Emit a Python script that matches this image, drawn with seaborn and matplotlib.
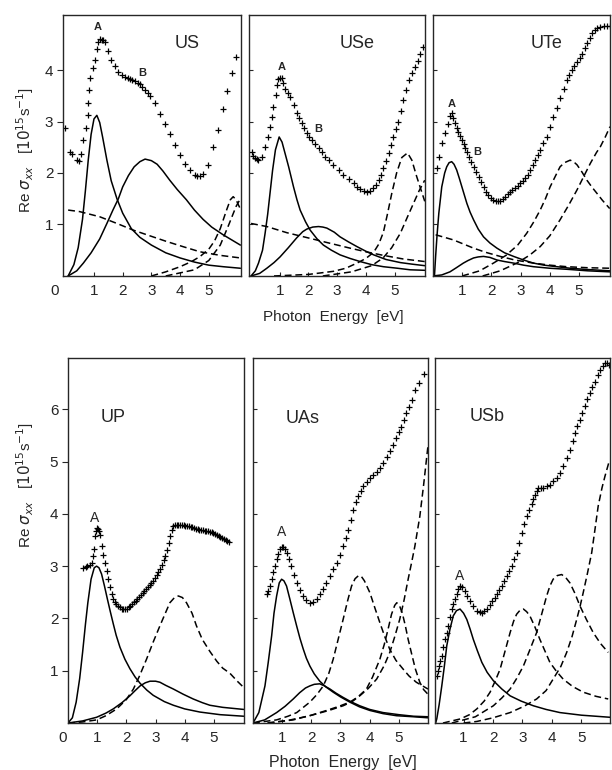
import matplotlib
matplotlib.use("Agg")
import matplotlib.pyplot as plt
import seaborn as sns

# ---- top row: US / USe / UTe  (photon energy [eV], Re sigma_xx [1e15 1/s]) ----
US_EXP = [(0.0, 2.88), (0.15, 2.41), (0.22, 2.36), (0.4, 2.25), (0.49, 2.24), (0.55, 2.36),
          (0.63, 2.64), (0.72, 2.87), (0.78, 3.13), (0.8, 3.35), (0.83, 3.61), (0.86, 3.84),
          (0.97, 4.04), (1.03, 4.2), (1.09, 4.4), (1.15, 4.55), (1.21, 4.6), (1.27, 4.59),
          (1.33, 4.58), (1.38, 4.55), (1.5, 4.36), (1.61, 4.2), (1.73, 4.07), (1.85, 3.97),
          (1.96, 3.91), (2.08, 3.86), (2.17, 3.84), (2.25, 3.83), (2.34, 3.81), (2.43, 3.78),
          (2.52, 3.75), (2.6, 3.72), (2.69, 3.67), (2.78, 3.62), (2.87, 3.56), (2.95, 3.5),
          (3.13, 3.35), (3.3, 3.15), (3.47, 2.96), (3.64, 2.76), (3.82, 2.54), (4.0, 2.34),
          (4.16, 2.18), (4.34, 2.05), (4.51, 1.97), (4.6, 1.95), (4.69, 1.95), (4.8, 1.99),
          (4.98, 2.16), (5.15, 2.51), (5.32, 2.83), (5.5, 3.25), (5.65, 3.6), (5.8, 3.95),
          (5.95, 4.25)]
US_A = [(0.1, 0.0), (0.3, 0.22), (0.45, 0.55), (0.6, 1.1), (0.7, 1.65), (0.8, 2.25), (0.9, 2.75),
        (1.0, 3.05), (1.1, 3.12), (1.2, 2.98), (1.3, 2.7), (1.45, 2.25), (1.6, 1.85), (1.8, 1.5),
        (2.0, 1.22), (2.3, 0.92), (2.6, 0.75), (3.0, 0.6), (3.5, 0.45), (4.0, 0.35), (4.5, 0.27),
        (5.0, 0.21), (5.5, 0.18), (6.1, 0.15)]
US_B = [(0.1, 0.0), (0.4, 0.1), (0.63, 0.25), (0.9, 0.45), (1.2, 0.72), (1.45, 1.02), (1.66, 1.28),
        (1.85, 1.5), (2.0, 1.73), (2.2, 1.95), (2.4, 2.12), (2.6, 2.22), (2.78, 2.27), (3.0, 2.24),
        (3.2, 2.17), (3.4, 2.04), (3.64, 1.86), (3.9, 1.68), (4.22, 1.48), (4.5, 1.28), (4.8, 1.1),
        (5.1, 0.95), (5.5, 0.8), (5.8, 0.7), (6.1, 0.6)]
US_D1 = [(0.1, 1.28), (0.5, 1.25), (1.2, 1.15), (1.8, 1.02), (2.37, 0.89), (3.0, 0.77), (3.53, 0.67),
         (4.1, 0.57), (4.69, 0.47), (5.4, 0.4), (6.1, 0.35)]
US_D2 = [(3.0, 0.0), (3.5, 0.08), (4.0, 0.18), (4.4, 0.28), (4.7, 0.38), (5.0, 0.52), (5.2, 0.68),
         (5.4, 0.92), (5.6, 1.25), (5.75, 1.48), (5.85, 1.54), (5.95, 1.48), (6.1, 1.3)]
US_D3 = [(3.5, 0.0), (4.5, 0.12), (5.0, 0.3), (5.4, 0.6), (5.7, 1.0), (5.95, 1.35), (6.1, 1.5)]

USE_EXP = [(0.02, 2.41), (0.08, 2.33), (0.14, 2.29), (0.2, 2.27), (0.26, 2.26), (0.37, 2.32),
           (0.49, 2.51), (0.58, 2.7), (0.66, 2.9), (0.72, 3.09), (0.78, 3.29), (0.87, 3.51),
           (0.92, 3.7), (0.95, 3.82), (1.0, 3.85), (1.07, 3.84), (1.13, 3.75), (1.19, 3.64),
           (1.28, 3.56), (1.36, 3.48), (1.48, 3.32), (1.59, 3.16), (1.68, 3.06), (1.77, 2.97),
           (1.85, 2.87), (1.94, 2.77), (2.03, 2.7), (2.12, 2.64), (2.23, 2.56), (2.35, 2.48),
           (2.47, 2.4), (2.58, 2.32), (2.7, 2.25), (2.87, 2.16), (3.05, 2.06), (3.22, 1.96),
           (3.4, 1.88), (3.57, 1.8), (3.7, 1.73), (3.8, 1.68), (3.92, 1.65), (4.03, 1.64),
           (4.15, 1.66), (4.26, 1.7), (4.35, 1.77), (4.44, 1.86), (4.53, 1.97), (4.61, 2.09),
           (4.7, 2.23), (4.79, 2.38), (4.88, 2.54), (4.96, 2.7), (5.05, 2.85), (5.13, 3.0),
           (5.22, 3.2), (5.3, 3.42), (5.4, 3.62), (5.5, 3.8), (5.6, 3.94), (5.7, 4.05),
           (5.8, 4.17), (5.9, 4.32), (5.98, 4.45)]
USE_A = [(0.0, 0.0), (0.15, 0.1), (0.26, 0.25), (0.4, 0.5), (0.49, 0.83), (0.58, 1.2), (0.66, 1.6),
         (0.75, 2.05), (0.85, 2.45), (0.98, 2.7), (1.08, 2.6), (1.2, 2.35), (1.31, 2.12), (1.48, 1.73),
         (1.6, 1.48), (1.71, 1.28), (1.9, 1.05), (2.06, 0.89), (2.3, 0.72), (2.52, 0.6), (2.8, 0.5),
         (3.1, 0.41), (3.45, 0.34), (3.8, 0.28), (4.2, 0.22), (4.61, 0.18), (5.1, 0.15), (5.54, 0.12),
         (6.05, 0.11)]
USE_B = [(0.0, 0.0), (0.3, 0.05), (0.55, 0.15), (0.8, 0.26), (1.01, 0.37), (1.3, 0.55), (1.59, 0.74),
         (1.8, 0.86), (1.94, 0.91), (2.15, 0.95), (2.35, 0.96), (2.5, 0.95), (2.64, 0.93), (2.9, 0.85),
         (3.1, 0.76), (3.4, 0.66), (3.69, 0.57), (4.0, 0.48), (4.27, 0.41), (4.7, 0.32), (5.2, 0.26),
         (5.6, 0.23), (6.05, 0.2)]
USE_D1 = [(0.0, 1.02), (0.55, 0.96), (1.25, 0.84), (2.06, 0.73), (2.64, 0.65), (3.45, 0.54),
          (4.0, 0.47), (4.61, 0.4), (5.3, 0.33), (6.05, 0.28)]
USE_D2 = [(0.8, 0.0), (2.0, 0.03), (2.87, 0.09), (3.3, 0.15), (3.69, 0.25), (4.0, 0.34), (4.27, 0.46),
          (4.45, 0.62), (4.61, 0.85), (4.75, 1.2), (4.9, 1.6), (5.07, 2.0), (5.25, 2.3), (5.45, 2.39),
          (5.6, 2.25), (5.77, 1.93), (6.05, 1.45)]
USE_D3 = [(2.5, 0.0), (3.5, 0.08), (4.2, 0.2), (4.6, 0.35), (4.9, 0.55), (5.2, 0.83), (5.45, 1.15),
          (5.65, 1.4), (5.85, 1.65), (6.05, 1.86)]

UTE_EXP = [(0.13, 2.09), (0.22, 2.32), (0.3, 2.58), (0.41, 2.77), (0.5, 2.95), (0.57, 3.1),
           (0.64, 3.16), (0.7, 3.07), (0.76, 2.97), (0.82, 2.88), (0.87, 2.8), (0.93, 2.72),
           (0.99, 2.64), (1.05, 2.56), (1.1, 2.48), (1.16, 2.4), (1.22, 2.32), (1.3, 2.22),
           (1.39, 2.12), (1.47, 2.02), (1.56, 1.93), (1.65, 1.83), (1.73, 1.73), (1.82, 1.64),
           (1.9, 1.57), (1.98, 1.52), (2.07, 1.48), (2.15, 1.46), (2.23, 1.46), (2.3, 1.46),
           (2.39, 1.5), (2.47, 1.54), (2.56, 1.59), (2.64, 1.64), (2.72, 1.67), (2.81, 1.7),
           (2.9, 1.75), (2.98, 1.8), (3.07, 1.85), (3.15, 1.9), (3.24, 1.97), (3.32, 2.06),
           (3.41, 2.15), (3.49, 2.25), (3.58, 2.35), (3.67, 2.45), (3.78, 2.58), (3.9, 2.7),
           (4.01, 2.9), (4.12, 3.09), (4.24, 3.27), (4.35, 3.45), (4.47, 3.63), (4.58, 3.81),
           (4.67, 3.91), (4.75, 4.0), (4.84, 4.08), (4.93, 4.16), (5.02, 4.24), (5.1, 4.32),
           (5.19, 4.42), (5.27, 4.52), (5.36, 4.62), (5.45, 4.71), (5.53, 4.77), (5.62, 4.81),
           (5.73, 4.84), (5.85, 4.85), (5.96, 4.85), (6.05, 4.85)]
UTE_A = [(0.05, 0.0), (0.09, 0.38), (0.14, 0.8), (0.2, 1.22), (0.3, 1.73), (0.4, 2.0), (0.47, 2.12),
         (0.55, 2.2), (0.64, 2.22), (0.72, 2.17), (0.81, 2.06), (0.9, 1.9), (0.99, 1.73), (1.08, 1.56),
         (1.16, 1.41), (1.27, 1.24), (1.39, 1.09), (1.55, 0.91), (1.73, 0.76), (1.95, 0.64),
         (2.19, 0.54), (2.45, 0.45), (2.76, 0.38), (3.1, 0.31), (3.44, 0.25), (3.8, 0.21),
         (4.24, 0.18), (4.7, 0.15), (5.16, 0.13), (6.06, 0.1)]
UTE_B = [(0.0, 0.0), (0.3, 0.02), (0.58, 0.08), (0.8, 0.16), (1.04, 0.25), (1.2, 0.3), (1.39, 0.35),
         (1.55, 0.37), (1.73, 0.38), (1.95, 0.36), (2.19, 0.31), (2.45, 0.28), (2.76, 0.25),
         (3.1, 0.21), (3.44, 0.18), (4.0, 0.15), (4.58, 0.13), (5.3, 0.1), (6.06, 0.08)]
UTE_D1 = [(0.09, 0.8), (0.7, 0.7), (1.39, 0.54), (1.8, 0.46), (2.3, 0.38), (2.8, 0.31), (3.44, 0.25),
          (4.0, 0.21), (4.58, 0.18), (5.3, 0.16), (6.06, 0.15)]
UTE_D2 = [(1.0, 0.0), (1.6, 0.1), (2.07, 0.25), (2.5, 0.4), (2.9, 0.6), (3.21, 0.83), (3.45, 1.05),
          (3.67, 1.28), (3.85, 1.5), (4.01, 1.73), (4.2, 1.95), (4.35, 2.12), (4.5, 2.2), (4.7, 2.25),
          (4.85, 2.2), (4.93, 2.16), (5.1, 2.02), (5.27, 1.86), (5.45, 1.72), (5.62, 1.6),
          (5.8, 1.47), (6.05, 1.31)]
UTE_D3 = [(1.7, 0.0), (2.3, 0.1), (2.87, 0.25), (3.3, 0.4), (3.67, 0.57), (4.0, 0.78), (4.35, 1.09),
          (4.65, 1.38), (4.93, 1.67), (5.15, 1.92), (5.39, 2.19), (5.6, 2.4), (5.73, 2.51),
          (5.9, 2.7), (6.06, 2.9)]

# ---- bottom row: UP / UAs / USb ----
UP_EXP = [(0.52, 2.97), (0.6, 2.99), (0.66, 3.0), (0.74, 3.03), (0.81, 3.07), (0.86, 3.2),
          (0.89, 3.32), (0.93, 3.57), (0.96, 3.68), (0.98, 3.73), (1.02, 3.72), (1.06, 3.68),
          (1.1, 3.6), (1.15, 3.38), (1.2, 3.22), (1.27, 3.07), (1.32, 2.9), (1.38, 2.75),
          (1.44, 2.6), (1.5, 2.46), (1.55, 2.38), (1.6, 2.31), (1.66, 2.27), (1.72, 2.24),
          (1.78, 2.21), (1.84, 2.19), (1.9, 2.18), (1.96, 2.18), (2.02, 2.19), (2.08, 2.21),
          (2.14, 2.24), (2.2, 2.27), (2.26, 2.31), (2.32, 2.34), (2.38, 2.37), (2.44, 2.41),
          (2.5, 2.45), (2.56, 2.49), (2.62, 2.52), (2.68, 2.56), (2.74, 2.6), (2.8, 2.64),
          (2.86, 2.68), (2.92, 2.72), (2.98, 2.78), (3.04, 2.84), (3.1, 2.89), (3.16, 2.95),
          (3.22, 3.03), (3.28, 3.11), (3.34, 3.2), (3.4, 3.3), (3.45, 3.44), (3.5, 3.58),
          (3.55, 3.7), (3.6, 3.76), (3.66, 3.78), (3.72, 3.78), (3.78, 3.79), (3.84, 3.78),
          (3.9, 3.79), (3.96, 3.78), (4.02, 3.77), (4.08, 3.77), (4.14, 3.76), (4.2, 3.75),
          (4.26, 3.74), (4.32, 3.73), (4.38, 3.72), (4.44, 3.71), (4.5, 3.7), (4.56, 3.69),
          (4.62, 3.69), (4.68, 3.68), (4.74, 3.67), (4.8, 3.67), (4.86, 3.66), (4.92, 3.65),
          (4.98, 3.64), (5.04, 3.62), (5.1, 3.6), (5.16, 3.58), (5.22, 3.56), (5.28, 3.54),
          (5.34, 3.52), (5.4, 3.5), (5.46, 3.48), (5.52, 3.46)]
UP_A = [(0.0, 0.0), (0.15, 0.1), (0.28, 0.4), (0.4, 0.85), (0.5, 1.35), (0.6, 1.9), (0.68, 2.3),
        (0.79, 2.75), (0.9, 2.97), (0.98, 3.0), (1.06, 2.97), (1.15, 2.85), (1.25, 2.62),
        (1.35, 2.37), (1.45, 2.13), (1.55, 1.9), (1.65, 1.68), (1.78, 1.45), (1.95, 1.22),
        (2.12, 1.04), (2.3, 0.88), (2.47, 0.76), (2.7, 0.63), (2.92, 0.53), (3.3, 0.41),
        (3.61, 0.34), (4.0, 0.27), (4.52, 0.21), (5.21, 0.16), (6.02, 0.13)]
UP_B = [(0.0, 0.0), (0.5, 0.04), (0.98, 0.11), (1.3, 0.19), (1.55, 0.27), (1.85, 0.39), (2.12, 0.52),
        (2.3, 0.62), (2.47, 0.71), (2.65, 0.77), (2.81, 0.8), (3.0, 0.8), (3.15, 0.78), (3.35, 0.72),
        (3.61, 0.65), (3.95, 0.55), (4.29, 0.46), (4.6, 0.39), (4.86, 0.34), (5.3, 0.3), (6.02, 0.26)]
UP_D = [(0.0, 0.0), (0.5, 0.02), (0.98, 0.06), (1.3, 0.14), (1.67, 0.27), (2.0, 0.45), (2.24, 0.65),
        (2.45, 0.9), (2.69, 1.22), (2.92, 1.55), (3.15, 1.86), (3.35, 2.12), (3.49, 2.3),
        (3.65, 2.4), (3.78, 2.43), (3.92, 2.4), (4.06, 2.3), (4.25, 2.1), (4.4, 1.86), (4.6, 1.6),
        (4.86, 1.37), (5.1, 1.18), (5.3, 1.05), (5.55, 0.95), (5.8, 0.8), (6.02, 0.68)]

UAS_EXP = [(0.47, 2.46), (0.52, 2.53), (0.58, 2.62), (0.64, 2.75), (0.7, 2.88), (0.76, 3.0),
           (0.81, 3.13), (0.87, 3.24), (0.92, 3.32), (0.98, 3.37), (1.04, 3.36), (1.1, 3.32),
           (1.15, 3.26), (1.24, 3.13), (1.32, 3.0), (1.41, 2.84), (1.5, 2.68), (1.61, 2.55),
           (1.72, 2.43), (1.83, 2.35), (1.95, 2.3), (2.06, 2.32), (2.18, 2.37), (2.3, 2.46),
           (2.41, 2.56), (2.52, 2.68), (2.64, 2.81), (2.75, 2.94), (2.87, 3.07), (2.98, 3.22),
           (3.09, 3.38), (3.18, 3.54), (3.26, 3.7), (3.35, 3.89), (3.43, 4.08), (3.52, 4.22),
           (3.61, 4.34), (3.7, 4.44), (3.78, 4.53), (3.9, 4.61), (4.01, 4.69), (4.12, 4.75),
           (4.24, 4.81), (4.35, 4.88), (4.46, 4.97), (4.58, 5.08), (4.69, 5.2), (4.8, 5.32),
           (4.92, 5.45), (5.0, 5.56), (5.09, 5.67), (5.18, 5.8), (5.26, 5.93), (5.35, 6.05),
           (5.44, 6.18), (5.55, 6.37), (5.7, 6.5), (5.85, 6.68)]
UAS_A = [(0.0, 0.0), (0.2, 0.2), (0.41, 0.71), (0.52, 1.15), (0.64, 1.67), (0.72, 2.1), (0.81, 2.43),
         (0.9, 2.68), (0.98, 2.75), (1.06, 2.72), (1.15, 2.62), (1.26, 2.38), (1.38, 2.11),
         (1.5, 1.85), (1.61, 1.62), (1.72, 1.42), (1.83, 1.24), (1.95, 1.09), (2.1, 0.94),
         (2.29, 0.8), (2.5, 0.69), (2.75, 0.59), (3.0, 0.5), (3.32, 0.4), (3.65, 0.31),
         (4.01, 0.24), (4.46, 0.18), (4.92, 0.14), (5.5, 0.12), (6.0, 0.1)]
UAS_B = [(0.0, 0.0), (0.4, 0.06), (0.81, 0.2), (1.1, 0.32), (1.38, 0.46), (1.6, 0.58), (1.8, 0.67),
         (1.95, 0.71), (2.1, 0.74), (2.29, 0.75), (2.45, 0.71), (2.64, 0.65), (2.85, 0.57),
         (3.09, 0.49), (3.35, 0.41), (3.66, 0.33), (4.0, 0.26), (4.46, 0.2), (5.0, 0.16),
         (5.5, 0.13), (6.0, 0.12)]
UAS_D1 = [(0.0, 0.0), (0.81, 0.06), (1.2, 0.13), (1.5, 0.2), (1.95, 0.4), (2.2, 0.55), (2.41, 0.71),
          (2.6, 0.95), (2.75, 1.22), (2.92, 1.6), (3.09, 1.98), (3.25, 2.35), (3.38, 2.62),
          (3.5, 2.76), (3.62, 2.82), (3.72, 2.8), (3.82, 2.72), (4.01, 2.49), (4.18, 2.2),
          (4.35, 1.92), (4.52, 1.65), (4.69, 1.41), (4.9, 1.2), (5.15, 1.03), (5.35, 0.9),
          (5.6, 0.78), (6.0, 0.65)]
UAS_D2 = [(0.5, 0.0), (1.38, 0.06), (2.0, 0.15), (2.52, 0.24), (2.95, 0.32), (3.32, 0.4), (3.6, 0.5),
          (3.89, 0.65), (4.1, 0.88), (4.35, 1.22), (4.5, 1.5), (4.63, 1.79), (4.75, 2.08),
          (4.86, 2.25), (4.93, 2.3), (5.02, 2.25), (5.12, 2.1), (5.22, 1.87), (5.32, 1.6),
          (5.45, 1.3), (5.57, 1.03), (5.72, 0.78), (5.85, 0.64), (6.0, 0.55)]
UAS_D3 = [(0.5, 0.0), (1.2, 0.05), (1.95, 0.14), (2.6, 0.24), (3.09, 0.33), (3.4, 0.41), (3.66, 0.52),
          (3.95, 0.66), (4.24, 0.84), (4.5, 1.1), (4.69, 1.35), (4.86, 1.65), (5.03, 1.98),
          (5.18, 2.35), (5.32, 2.75), (5.45, 3.1), (5.55, 3.38), (5.72, 3.95), (5.85, 4.55),
          (6.0, 5.3)]

USB_EXP = [(0.09, 0.9), (0.12, 1.0), (0.15, 1.09), (0.2, 1.18), (0.26, 1.28), (0.31, 1.45),
           (0.37, 1.6), (0.43, 1.72), (0.48, 1.86), (0.54, 2.02), (0.6, 2.18), (0.65, 2.28),
           (0.71, 2.37), (0.77, 2.47), (0.82, 2.56), (0.88, 2.62), (0.95, 2.6), (1.05, 2.52),
           (1.13, 2.42), (1.22, 2.33), (1.33, 2.23), (1.45, 2.14), (1.55, 2.12), (1.62, 2.11),
           (1.7, 2.14), (1.79, 2.18), (1.88, 2.25), (1.96, 2.33), (2.05, 2.4), (2.13, 2.46),
           (2.21, 2.54), (2.29, 2.62), (2.38, 2.71), (2.46, 2.81), (2.55, 2.9), (2.63, 3.0),
           (2.72, 3.13), (2.8, 3.26), (2.88, 3.45), (2.97, 3.64), (3.05, 3.8), (3.14, 3.96),
           (3.22, 4.08), (3.31, 4.18), (3.37, 4.28), (3.42, 4.37), (3.48, 4.44), (3.54, 4.49),
           (3.62, 4.5), (3.71, 4.5), (3.82, 4.53), (3.93, 4.56), (4.05, 4.62), (4.16, 4.69),
           (4.27, 4.79), (4.38, 4.91), (4.5, 5.06), (4.61, 5.23), (4.7, 5.4), (4.78, 5.55),
           (4.86, 5.68), (4.95, 5.8), (5.03, 5.93), (5.12, 6.06), (5.2, 6.19), (5.29, 6.31),
           (5.37, 6.42), (5.46, 6.53), (5.55, 6.65), (5.63, 6.76), (5.72, 6.83), (5.8, 6.88),
           (5.88, 6.88), (5.94, 6.85)]
USB_A = [(0.05, 0.0), (0.09, 0.08), (0.17, 0.35), (0.26, 0.71), (0.35, 1.1), (0.43, 1.48),
         (0.54, 1.8), (0.65, 2.05), (0.76, 2.15), (0.88, 2.18), (1.0, 2.1), (1.11, 1.98),
         (1.22, 1.8), (1.33, 1.6), (1.47, 1.38), (1.62, 1.16), (1.8, 0.97), (2.01, 0.81),
         (2.3, 0.65), (2.58, 0.52), (2.95, 0.42), (3.37, 0.33), (3.8, 0.26), (4.27, 0.2),
         (5.0, 0.15), (5.97, 0.11)]
USB_D1 = [(0.3, 0.0), (0.9, 0.08), (1.2, 0.16), (1.45, 0.27), (1.7, 0.42), (1.9, 0.59), (2.07, 0.8),
          (2.24, 1.03), (2.4, 1.36), (2.58, 1.73), (2.7, 1.95), (2.8, 2.08), (2.92, 2.16),
          (3.03, 2.18), (3.14, 2.13), (3.25, 2.05), (3.42, 1.84), (3.59, 1.6), (3.76, 1.38),
          (3.93, 1.16), (4.15, 0.99), (4.38, 0.84), (4.7, 0.7), (5.06, 0.59), (5.5, 0.51),
          (5.91, 0.46)]
USB_D2 = [(0.6, 0.0), (1.4, 0.12), (2.01, 0.33), (2.3, 0.48), (2.58, 0.65), (2.8, 0.85), (3.03, 1.09),
          (3.25, 1.4), (3.48, 1.73), (3.65, 2.08), (3.82, 2.43), (3.93, 2.62), (4.04, 2.75),
          (4.18, 2.82), (4.33, 2.84), (4.47, 2.78), (4.61, 2.68), (4.78, 2.48), (4.95, 2.24),
          (5.17, 1.98), (5.4, 1.73), (5.65, 1.52), (5.91, 1.35)]
USB_D3 = [(1.0, 0.0), (1.45, 0.03), (2.0, 0.1), (2.58, 0.2), (3.05, 0.32), (3.48, 0.46), (3.8, 0.62),
          (4.04, 0.84), (4.3, 1.08), (4.5, 1.35), (4.68, 1.65), (4.84, 1.98), (4.95, 2.22),
          (5.06, 2.49), (5.2, 2.85), (5.35, 3.26), (5.46, 3.7), (5.57, 4.15), (5.7, 4.5),
          (5.8, 4.72), (5.94, 5.0)]

# peak letters (label, energy, value)
US_PEAKS = [("A", 1.14, 4.84), ("B", 2.67, 3.94)]
USE_PEAKS = [("A", 1.08, 4.06), ("B", 2.33, 2.85)]
UTE_PEAKS = [("A", 0.65, 3.34), ("B", 1.51, 2.41)]
UP_PEAKS = [("A", 0.92, 3.93)]
UAS_PEAKS = [("A", 0.99, 3.65)]
USB_PEAKS = [("A", 0.88, 2.81)]

TOP_YTICKS = [1, 2, 3, 4]
BOTTOM_YTICKS = [1, 2, 3, 4, 5, 6]

DASH = (0, (4.5, 2.5))

panels = [
    dict(name="US", rect=[0.1029, 0.6416, 0.2908, 0.3390], xlim=(-0.08, 6.12), ylim=(0, 5.07),
         yticks=TOP_YTICKS, exp=US_EXP, solid=[US_A, US_B], dashed=[US_D1, US_D2, US_D3],
         peaks=US_PEAKS, name_xy=(4.23, 4.52), first=True, zero_x=-0.36, bold_peaks=True),
    dict(name="USe", rect=[0.4069, 0.6416, 0.2876, 0.3390], xlim=(-0.07, 6.06), ylim=(0, 5.07),
         yticks=TOP_YTICKS, exp=USE_EXP, solid=[USE_A, USE_B], dashed=[USE_D1, USE_D2, USE_D3],
         peaks=USE_PEAKS, name_xy=(3.69, 4.52), first=False, bold_peaks=True),
    dict(name="UTe", rect=[0.7075, 0.6416, 0.2892, 0.3390], xlim=(0.0, 6.06), ylim=(0, 5.07),
         yticks=TOP_YTICKS, exp=UTE_EXP, solid=[UTE_A, UTE_B], dashed=[UTE_D1, UTE_D2, UTE_D3],
         peaks=UTE_PEAKS, name_xy=(3.9, 4.52), first=False, bold_peaks=True),
    dict(name="UP", rect=[0.1111, 0.0610, 0.2876, 0.4740], xlim=(0.0, 6.03), ylim=(0, 6.98),
         yticks=BOTTOM_YTICKS, exp=UP_EXP, solid=[UP_A, UP_B], dashed=[UP_D],
         peaks=UP_PEAKS, name_xy=(1.54, 5.84), first=True, zero_x=-0.2, bold_peaks=False),
    dict(name="UAs", rect=[0.4134, 0.0610, 0.2859, 0.4740], xlim=(0.0, 6.0), ylim=(0, 6.98),
         yticks=BOTTOM_YTICKS, exp=UAS_EXP, solid=[UAS_A, UAS_B], dashed=[UAS_D1, UAS_D2, UAS_D3],
         peaks=UAS_PEAKS, name_xy=(1.71, 5.82), first=False, bold_peaks=False),
    dict(name="USb", rect=[0.7108, 0.0610, 0.2859, 0.4740], xlim=(0.03, 5.97), ylim=(0, 6.98),
         yticks=BOTTOM_YTICKS, exp=USB_EXP, solid=[USB_A], dashed=[USB_D1, USB_D2, USB_D3],
         peaks=USB_PEAKS, name_xy=(1.8, 5.86), first=False, bold_peaks=False),
]

sns.set_style("ticks")
plt.rcParams["font.family"] = ["Liberation Sans", "DejaVu Sans"]
plt.rcParams["mathtext.fontset"] = "dejavusans"

fig = plt.figure(figsize=(6.12, 7.7), dpi=100)


def xy(series):
    return [p[0] for p in series], [p[1] for p in series]


for p in panels:
    ax = fig.add_axes(p["rect"])
    for curve in p["solid"]:
        x, y = xy(curve)
        sns.lineplot(x=x, y=y, ax=ax, color="black", linewidth=1.1, sort=False, estimator=None)
    for curve in p["dashed"]:
        x, y = xy(curve)
        sns.lineplot(x=x, y=y, ax=ax, color="black", linewidth=1.1, linestyle=DASH,
                     sort=False, estimator=None)
    x, y = xy(p["exp"])
    sns.scatterplot(x=x, y=y, ax=ax, marker="+", s=13, color="black", linewidth=0.9)

    ax.set_xlim(*p["xlim"])
    ax.set_ylim(*p["ylim"])
    ax.set_xticks([1, 2, 3, 4, 5])
    ax.set_xticklabels(["1", "2", "3", "4", "5"])
    ax.set_yticks(p["yticks"])
    ax.tick_params(axis="x", direction="in", length=3, width=0.8, pad=6, labelsize=11)
    if p["first"]:
        ax.set_yticklabels([str(v) for v in p["yticks"]])
        ax.tick_params(axis="y", direction="out", length=4, width=0.8, pad=3, labelsize=11)
        ax.annotate("0", xy=(p["zero_x"], 0), xycoords=("data", "axes fraction"),
                    xytext=(0, -6), textcoords="offset points", ha="center", va="top",
                    fontsize=11, annotation_clip=False)
    else:
        ax.tick_params(axis="y", direction="in", length=3, width=0.8, labelleft=False)
    for s in ax.spines.values():
        s.set_linewidth(1.0)
    ax.set_xlabel("")
    ax.set_ylabel("")

    ax.text(p["name_xy"][0], p["name_xy"][1], p["name"], fontsize=13, ha="center", va="center")
    for lab, ex, ey in p["peaks"]:
        ax.text(ex, ey, lab, fontsize=8 if p["bold_peaks"] else 10,
                fontweight="bold" if p["bold_peaks"] else "normal", ha="center", va="center")

ylab = r"Re $\sigma_{xx}$   [$10^{15}$s$^{-1}$]"
fig.text(25 / 612, 1 - 150 / 770, ylab, rotation=90, ha="center", va="center", fontsize=11)
fig.text(25 / 612, 1 - 485 / 770, ylab, rotation=90, ha="center", va="center", fontsize=11)
fig.text(333 / 612, 1 - 317 / 770, "Photon  Energy  [eV]", ha="center", va="center", fontsize=11)
fig.text(343 / 612, 1 - 762 / 770, "Photon  Energy  [eV]", ha="center", va="center", fontsize=11.5)

fig.savefig("out.png", dpi=100)
